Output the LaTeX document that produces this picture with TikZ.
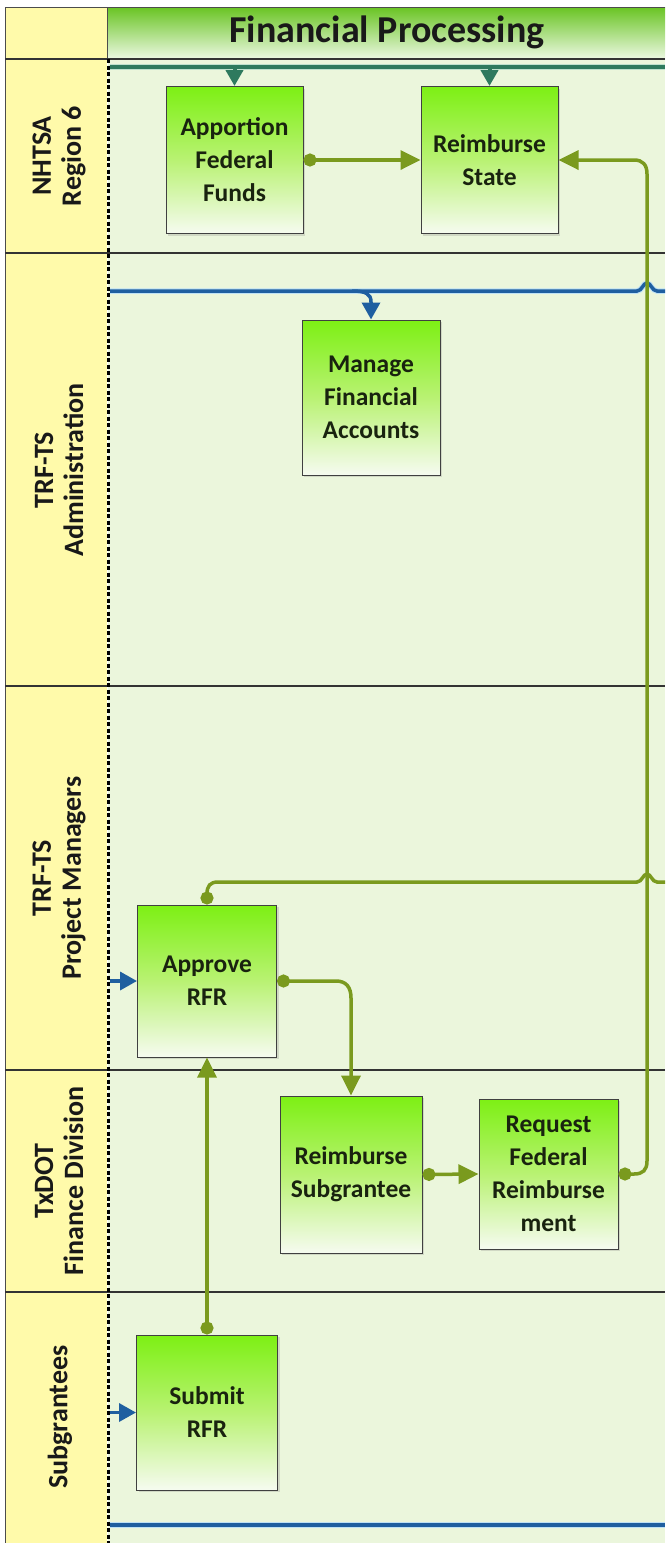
\documentclass[tikz,border=0pt]{standalone}
\usepackage{fontspec}
\setmainfont{Carlito}
\usetikzlibrary{arrows.meta,shadows}
\definecolor{flowgreen}{RGB}{122,154,30}
\definecolor{tealc}{RGB}{46,122,94}
\definecolor{teallight}{RGB}{190,225,205}
\definecolor{bluec}{RGB}{31,95,160}
\definecolor{bluelight}{RGB}{190,225,245}
\definecolor{laneyellow}{RGB}{255,250,170}
\definecolor{lanebg}{RGB}{235,246,220}
\definecolor{boxtop}{RGB}{125,240,20}
\definecolor{boxmid}{RGB}{185,242,115}
\definecolor{boxbot}{RGB}{246,251,240}
\definecolor{titletop}{RGB}{105,196,35}
\definecolor{titlebot}{RGB}{236,248,226}
\definecolor{boxtext}{RGB}{25,35,15}
\begin{document}
\begin{tikzpicture}[x=1pt,y=-1pt,
  procbox/.style={draw=black!75, line width=1pt, inner sep=0pt, align=center,
    top color=boxtop, bottom color=boxbot, middle color=boxmid,
    text=boxtext, font=\bfseries\fontsize{25.5}{33}\selectfont,
    drop shadow={shadow xshift=2pt, shadow yshift=-2pt, opacity=0.25}},
  lanelabel/.style={rotate=90, align=center, text=black!90,
    font=\bfseries\fontsize{28}{30}\selectfont},
  flow/.style={draw=flowgreen, line width=3.5pt},
  dotarrow/.style={flow, {Circle[length=13pt]}-{Triangle[length=20pt,width=19pt]}},
  plainarrow/.style={flow, -{Triangle[length=20pt,width=19pt]}},
  dotstart/.style={flow, {Circle[length=13pt]}-},
  bluebase/.style={draw=bluelight, line width=5.5pt},
  blueline/.style={draw=bluec, line width=3.5pt},
  bluearrow/.style={blueline, -{Triangle[length=17pt,width=18pt]}},
  tealbase/.style={draw=teallight, line width=6pt},
  tealline/.style={draw=tealc, line width=4pt},
  tealarrow/.style={tealline, -{Triangle[length=16pt,width=17pt]}},
  laneline/.style={draw=black!80, line width=1.5pt}
]
\useasboundingbox (0,0) rectangle (665,1543);
% backgrounds
\fill[white] (0,0) rectangle (665,1543);
\fill[laneyellow] (5,7) rectangle (107,1543);
\fill[lanebg] (108,59) rectangle (665,1543);
\shade[top color=titletop, bottom color=titlebot] (107,7) rectangle (665,59);
% borders
\draw[black!70, line width=1pt] (5,7) -- (665,7);
\draw[black!70, line width=1pt] (5,7) -- (5,1543);
\draw[black!70, line width=1pt] (107,7) -- (107,59);
\draw[laneline] (5,59) -- (665,59);
\draw[laneline] (5,253) -- (665,253);
\draw[laneline] (5,686) -- (665,686);
\draw[laneline] (5,1070) -- (665,1070);
\draw[laneline] (5,1292) -- (665,1292);
\draw[black, line width=2.5pt, dash pattern=on 4pt off 2.5pt] (108.5,59) -- (108.5,1543);
% title
\node[font=\bfseries\fontsize{38}{40}\selectfont, text=black!90] (title) at (387,32) {Financial Processing};
% lane labels
\node[lanelabel] (lab1) at (59,156) {NHTSA\\Region 6};
\node[lanelabel] (lab2) at (59,470) {TRF-TS\\Administration};
\node[lanelabel] (lab3) at (59,878) {TRF-TS\\Project Managers};
\node[lanelabel] (lab4) at (59,1181) {TxDOT\\Finance Division};
\node[lanelabel] (lab5) at (60,1417) {Subgrantees};
% boxes
\node[procbox, minimum width=137pt, minimum height=147pt] (apf) at (234.5,160) {Apportion\\Federal\\Funds};
\node[procbox, minimum width=137pt, minimum height=147pt] (rs) at (489.5,160) {Reimburse\\State};
\node[procbox, minimum width=138pt, minimum height=155pt] (man) at (371,397.5) {Manage\\Financial\\Accounts};
\node[procbox, minimum width=139pt, minimum height=152pt] (appr) at (207,981) {Approve\\RFR};
\node[procbox, minimum width=142pt, minimum height=157pt] (rsub) at (351,1174.5) {Reimburse\\Subgrantee};
\node[procbox, minimum width=139pt, minimum height=150pt] (req) at (548.5,1174) {Request\\Federal\\Reimburse\\ment};
\node[procbox, minimum width=141pt, minimum height=155pt] (sub) at (207,1412.5) {Submit\\RFR};
% coordinates
\coordinate (tealL) at (110,67);
\coordinate (tealR) at (665,67);
\coordinate (tealA) at (234.5,67);
\coordinate (tealB) at (489.5,67);
\coordinate (blueL) at (110,291);
\coordinate (blueR) at (665,291);
\coordinate (blueB) at (110,1525);
\coordinate (blueBR) at (665,1525);
\coordinate (inAppr) at (110,981);
\coordinate (inSub) at (110,1412.5);
\coordinate (pmR) at (665,882);
% teal line at top
\draw[tealbase] (tealL) -- (tealR);
\draw[tealline] (tealL) -- (tealR);
\draw[tealarrow] (tealA) -- (apf.north);
\draw[tealarrow] (tealB) -- (rs.north);
% blue line admin with hop
\draw[bluebase] (blueL) -- (637,291) .. controls (642,291) and (643,283) .. (647,283) .. controls (651,283) and (652,291) .. (657,291) -- (blueR);
\draw[blueline] (blueL) -- (637,291) .. controls (642,291) and (643,283) .. (647,283) .. controls (651,283) and (652,291) .. (657,291) -- (blueR);
\draw[bluearrow] (352,291) .. controls (366,291) and (371,294) .. (371,302) -- (man.north);
% bottom blue line
\draw[bluebase] (blueB) -- (blueBR);
\draw[blueline] (blueB) -- (blueBR);
% blue in-arrows
\draw[bluearrow] (inAppr) -- (appr.west);
\draw[bluearrow] (inSub) -- (sub.west);
% green flows
\draw[dotarrow] (apf.east) -- (rs.west);
\draw[dotarrow] (req.east) -- (634,1174) .. controls (643,1174) and (647,1170) .. (647,1161) -- (647,174) .. controls (647,165) and (643,160) .. (634,160) -- (rs.east);
\draw[dotstart] (appr.north) -- (207,894) .. controls (207,886) and (210,882) .. (218,882) -- (637,882) .. controls (642,882) and (643,874) .. (647,874) .. controls (651,874) and (652,882) .. (657,882) -- (pmR);
\draw[dotarrow] (appr.east) -- (336,981) .. controls (346,981) and (351,987) .. (351,998) -- (rsub.north);
\draw[dotarrow] (rsub.east) -- (req.west);
\draw[dotarrow] (sub.north) -- (appr.south);
\end{tikzpicture}
\end{document}
